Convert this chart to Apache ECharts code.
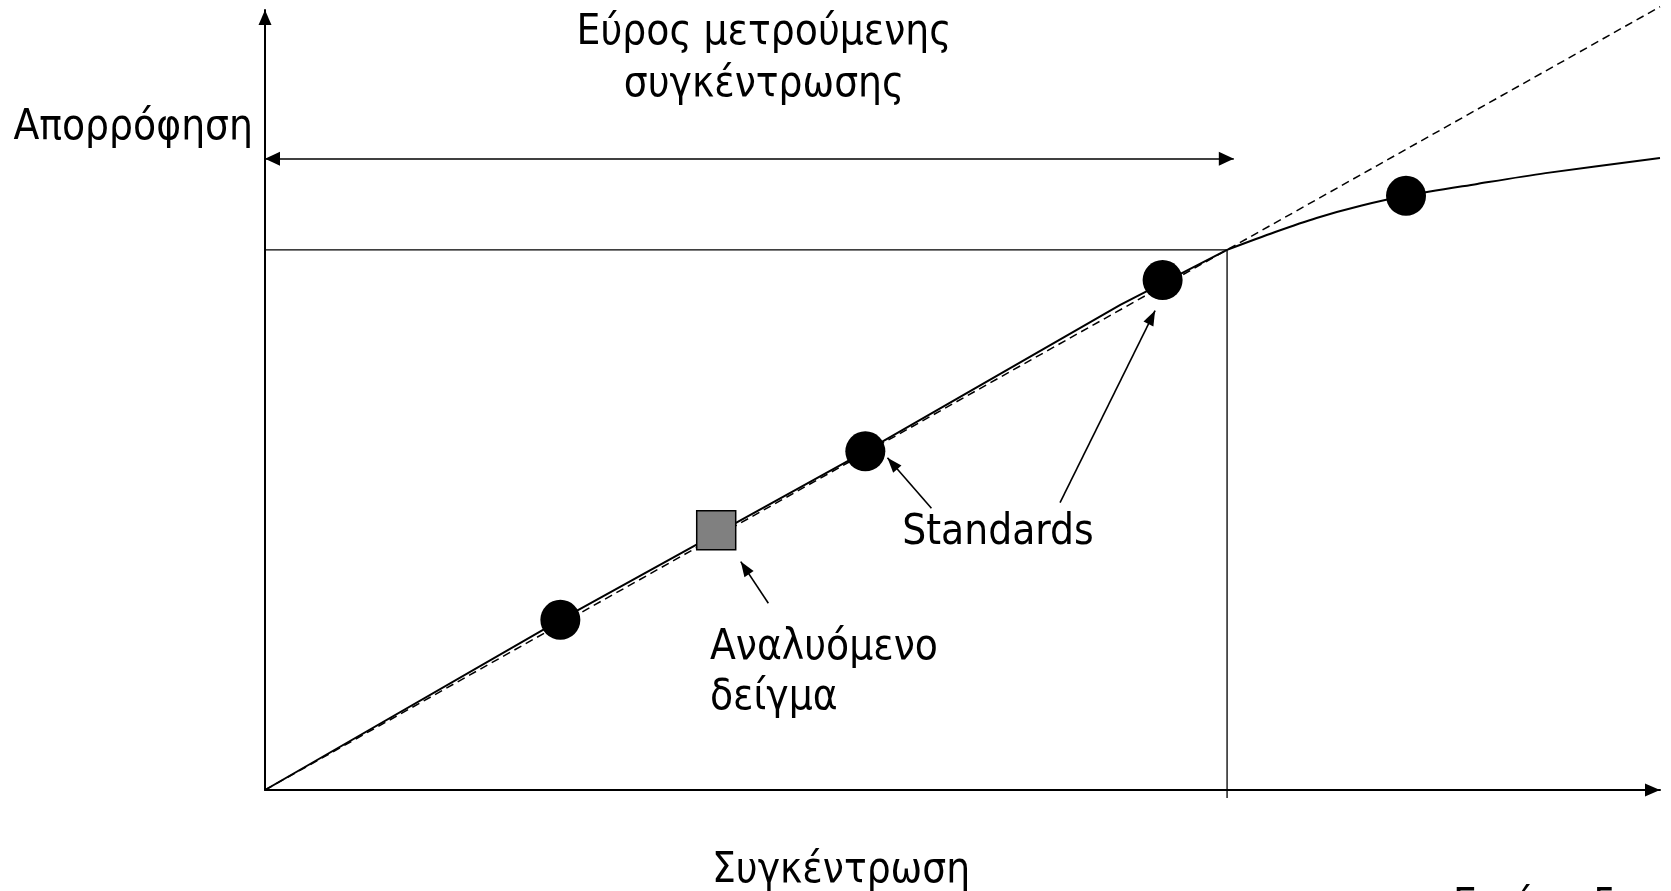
<!DOCTYPE html>
<html><head><meta charset="utf-8">
<script src="https://cdn.jsdelivr.net/npm/echarts@6/dist/echarts.min.js"></script>
<style>html,body{margin:0;padding:0;background:#fff}#c{width:1671px;height:891px}</style>
</head><body><div id="c"></div>
<script>
// ---- data (arbitrary units) ----
const standardsX = [3.07, 6.24, 9.33, 11.86];
const standardsY = [0.315, 0.627, 0.944, 1.100];
const sampleX = [4.69];
const sampleY = [0.481];
// measured calibration curve: linear part, then curved part beyond the limit
const linearX = [0, 3.07, 6.24, 8.89, 10.0];
const linearY = [0, 0.315, 0.627, 0.898, 1.0];
const bendX = [10.0, 10.5, 10.93, 11.4, 11.86, 12.6, 13.31, 14.5];
const bendY = [1.0, 1.033, 1.059, 1.082, 1.100, 1.122, 1.142, 1.170];
const idealX = [0, 14.5];
const idealY = [0, 1.45];
const limitX = [-0.06, 10, 10];
const limitY = [1.0, 1.0, -0.015];
const rangeX = [0, 10.07];
const rangeY = [1.1685, 1.1685];
// annotation arrows: [tailX, tailY, tipX, tipY]
const arrowStd1 = [6.927, 0.5217, 6.47, 0.615];
const arrowStd2 = [8.264, 0.5321, 9.252, 0.8876];
const arrowSample = [5.232, 0.3457, 4.945, 0.4228];
const xMax = 14.5, yMax = 1.444;

const zip = (a, b) => a.map((v, i) => [v, b[i]]);
const FONT = '"DejaVu Sans Condensed", "DejaVu Sans", sans-serif';
const FS = 42;

function txt(text, x, y, align) {
  return { type: 'text', x: x, y: y, silent: true,
    style: { text: text, fill: '#000', font: FS + 'px ' + FONT,
      align: align, textAlign: align, verticalAlign: 'middle', textVerticalAlign: 'middle' } };
}
function arrowLine(a) {
  return [{ coord: [a[0], a[1]], symbol: 'none' },
          { coord: [a[2], a[3]], symbol: 'triangle', symbolSize: [11, 15], symbolOffset: [0, 7.5] }];
}

const chart = echarts.init(document.getElementById('c'));
chart.setOption({
  animation: false,
  backgroundColor: '#fff',
  grid: { left: 265, right: 11, top: 10, bottom: 101 },
  xAxis: { type: 'value', min: 0, max: xMax,
    axisLine: { show: true, lineStyle: { color: '#000', width: 2 }, symbol: ['none', 'triangle'], symbolSize: [13, 15], symbolOffset: [0, -7.5] },
    axisTick: { show: false }, axisLabel: { show: false }, splitLine: { show: false } },
  yAxis: { type: 'value', min: 0, max: yMax,
    axisLine: { show: true, onZero: false, lineStyle: { color: '#000', width: 2 }, symbol: ['none', 'triangle'], symbolSize: [13, 15], symbolOffset: [0, -7.5] },
    axisTick: { show: false }, axisLabel: { show: false }, splitLine: { show: false } },
  series: [
    { type: 'line', data: zip(idealX, idealY), symbol: 'none', clip: false, z: 2,
      lineStyle: { color: '#000', width: 1.5, type: [8, 5] } },
    { type: 'line', data: zip(linearX, linearY), symbol: 'none', clip: false, z: 3,
      smooth: false, lineStyle: { color: '#000', width: 2 } },
    { type: 'line', data: zip(bendX, bendY), symbol: 'none', clip: false, z: 3,
      smooth: 0.3, lineStyle: { color: '#000', width: 2 } },
    { type: 'line', data: zip(limitX, limitY), symbol: 'none', clip: false, z: 2,
      lineStyle: { color: '#000', width: 1.3 } },
    { type: 'line', data: [], symbol: 'none',
      markLine: { silent: true, animation: false, label: { show: false },
        lineStyle: { color: '#000', width: 1.6, type: 'solid' },
        data: [
          [{ coord: [rangeX[0], rangeY[0]], symbol: 'triangle', symbolSize: [14, 15], symbolOffset: [0, 7.5] },
           { coord: [rangeX[1], rangeY[1]], symbol: 'triangle', symbolSize: [14, 15], symbolOffset: [0, 7.5] }],
          arrowLine(arrowStd1), arrowLine(arrowStd2), arrowLine(arrowSample)
        ] } },
    { type: 'scatter', data: zip(standardsX, standardsY), symbol: 'circle', symbolSize: 40, z: 5,
      itemStyle: { color: '#000', opacity: 1 } },
    { type: 'scatter', data: zip(sampleX, sampleY), symbol: 'rect', symbolSize: 39, z: 5,
      itemStyle: { color: '#808080', borderColor: '#000', borderWidth: 1.5, opacity: 1 } }
  ],
  graphic: [
    txt('Απορρόφηση', 253, 128, 'right'),
    txt('Εύρος μετρούμενης', 764, 33, 'center'),
    txt('συγκέντρωσης', 764, 85, 'center'),
    txt('Standards', 998, 533, 'center'),
    txt('Αναλυόμενο', 710, 648, 'left'),
    txt('δείγμα', 710, 698, 'left'),
    txt('Συγκέντρωση', 712, 871, 'left'),
    txt('Εικόνα 5', 1453, 907, 'left')
  ]
});
</script></body></html>
